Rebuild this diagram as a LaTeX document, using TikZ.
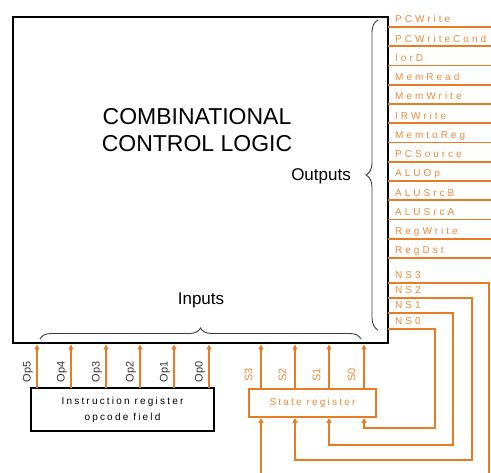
\documentclass[tikz,border=0pt]{standalone}
\usepackage{fontspec}
\setmainfont{Liberation Sans}
\newfontfamily\outfont[LetterSpace=30]{Liberation Sans}
\newfontfamily\regfont[LetterSpace=22]{Liberation Sans}
\usetikzlibrary{arrows.meta,decorations.pathreplacing}
\definecolor{org}{RGB}{232,124,34}
\definecolor{orgtxt}{RGB}{236,138,58}
\definecolor{brc}{RGB}{60,60,60}
\tikzset{
  oline/.style={draw=org, line width=1.8pt},
  olabel/.style={text=orgtxt, font=\outfont\fontsize{10}{12}\selectfont, inner sep=0pt},
  arr/.style={draw=org, line width=1.8pt, -{Triangle[length=5pt,width=5pt]}},
  bracestyle/.style={draw=brc, line width=0.9pt, decorate, decoration={brace, amplitude=#1}},
  oplabel/.style={text=black!80, font=\fontsize{11}{13}\selectfont, rotate=90, inner sep=0pt},
  slabel/.style={text=orgtxt, font=\fontsize{11}{13}\selectfont, rotate=90, inner sep=0pt},
}
\begin{document}
\begin{tikzpicture}[x=1pt,y=-1pt]
\useasboundingbox (0,0) rectangle (491,473);
% main block
\node[draw=black, line width=2.2pt, minimum width=375pt, minimum height=326pt, inner sep=0pt] (ccl) at (200.5,180) {};
\node[align=center, font=\fontsize{23}{27}\selectfont] (title) at (197,130) {COMBINATIONAL\\CONTROL LOGIC};
\node[anchor=east, font=\fontsize{17}{20}\selectfont, inner sep=0pt] (outputs) at (351,176) {Outputs};
\node[font=\fontsize{17}{20}\selectfont, inner sep=0pt] (inputs) at (201,300) {Inputs};
% braces
\coordinate (rb1) at (378,330);
\coordinate (rb2) at (378,20);
\draw[bracestyle=12pt] (rb1) -- (rb2);
\coordinate (bb1) at (40,339);
\coordinate (bb2) at (361,339);
\draw[bracestyle=11pt] (bb1) -- (bb2);
% output signals
\foreach \name [count=\i from 0] in {PCWrite,PCWriteCond,IorD,MemRead,MemWrite,IRWrite,MemtoReg,PCSource,ALUOp,ALUSrcB,ALUSrcA,RegWrite,RegDst} {
  \pgfmathsetmacro\yy{27+19.25*\i}
  \coordinate (out\i) at (388,\yy);
  \coordinate (end\i) at (491,\yy);
  \draw[oline] (out\i) -- (end\i);
  \node[olabel, anchor=base west] (lab\i) at (395,\yy-4) {\name};
}
% registers
\node[draw=black, line width=2pt, minimum width=183pt, minimum height=43pt, inner sep=0pt, align=center,
      font=\regfont\fontsize{10}{16}\selectfont] (ireg) at (122.5,409.5) {Instruction register\\opcode field};
\node[draw=org, line width=1.5pt, minimum width=127pt, minimum height=28pt, inner sep=0pt,
      text=orgtxt, font=\regfont\fontsize{10}{12}\selectfont] (sreg) at (312.5,403) {State register};
% opcode inputs
\foreach \lab/\xx in {Op5/37,Op4/71,Op3/106,Op2/140,Op1/174,Op0/209} {
  \coordinate (\lab b) at (\xx,388);
  \coordinate (\lab t) at (\xx,344.5);
  \draw[arr] (\lab b) -- (\lab t);
  \node[oplabel] (\lab l) at (\xx-9,372) {\lab};
}
% state inputs
\foreach \lab/\xx in {S3/261,S2/295,S1/329,S0/364} {
  \coordinate (\lab b) at (\xx,389);
  \coordinate (\lab t) at (\xx,344.5);
  \draw[arr] (\lab b) -- (\lab t);
  \node[slabel] (\lab l) at (\xx-12.5,375) {\lab};
}
% next-state outputs
\coordinate (ns3) at (388,283);
\coordinate (ns2) at (388,298);
\coordinate (ns1) at (388,313);
\coordinate (ns0) at (388,329);
\node[olabel, anchor=base west] (ns3l) at (395,279) {NS3};
\node[olabel, anchor=base west] (ns2l) at (395,294) {NS2};
\node[olabel, anchor=base west] (ns1l) at (395,309) {NS1};
\node[olabel, anchor=base west] (ns0l) at (395,325) {NS0};
\coordinate (ns3c) at (489,473);
\coordinate (s3in) at (261,473);
\coordinate (s3r) at (261,418);
\coordinate (s2r) at (295,418);
\coordinate (s1r) at (329,418);
\coordinate (s0r) at (364,418);
\draw[oline] (ns3) -| (ns3c);
\draw[arr] (s3in) -- (s3r);
\draw[arr] (ns2) -| (472,460) -| (s2r);
\draw[arr] (ns1) -| (453,445) -| (s1r);
\draw[arr] (ns0) -| (435,428) -| (s0r);
\end{tikzpicture}
\end{document}
